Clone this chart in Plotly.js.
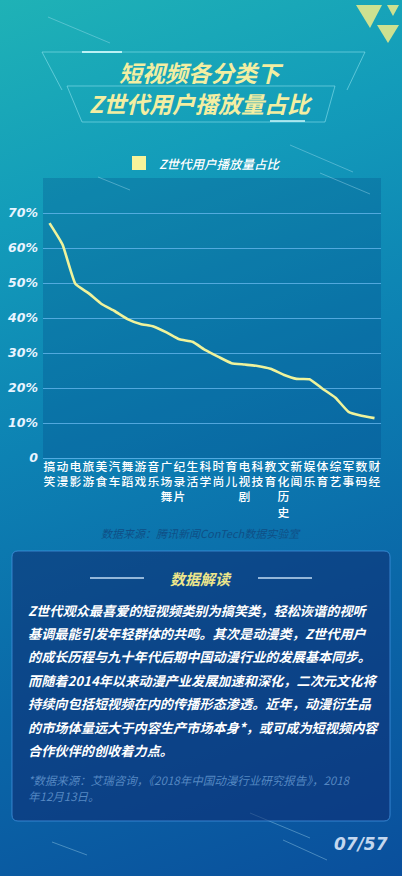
<!DOCTYPE html>
<html>
<head>
<meta charset="utf-8">
<script src="https://cdn.plot.ly/plotly-3.0.1.min.js"></script>
<style>
html,body{margin:0;padding:0;width:402px;height:876px;overflow:hidden;}
body{background:linear-gradient(160deg,#1fb2b6 0%,#139cba 22%,#0d82b3 45%,#0a68a8 70%,#0a4f9c 100%);}
#chart{width:402px;height:876px;}
</style>
</head>
<body>
<div id="chart"></div>
<script>
// ---- data ----
const categories = ['搞笑','动漫','电影','旅游','美食','汽车','舞蹈','游戏','音乐','广场舞','纪录片','生活','科学','时尚','育儿','电视剧','科技','教育','文化历史','新闻','娱乐','体育','综艺','军事','数码','财经'];
const shares = [67.1, 61.0, 49.7, 47.1, 44.0, 42.0, 39.7, 38.3, 37.6, 35.9, 33.9, 33.2, 30.8, 28.9, 27.1, 26.7, 26.3, 25.5, 23.8, 22.6, 22.5, 19.8, 17.2, 13.2, 12.1, 11.4];
const yTickVals = [0, 10, 20, 30, 40, 50, 60, 70];
const yTickText = ['0', '10%', '20%', '30%', '40%', '50%', '60%', '70%'];
const seriesName = 'Z世代用户播放量占比';
const titleLines = ['短视频各分类下', 'Z世代用户播放量占比'];
const sourceText = '数据来源：腾讯新闻ConTech数据实验室';
const boxHeader = '数据解读';
const boxLines = [
  'Z世代观众最喜爱的短视频类别为搞笑类，轻松诙谐的视听',
  '基调最能引发年轻群体的共鸣。其次是动漫类，Z世代用户',
  '的成长历程与九十年代后期中国动漫行业的发展基本同步。',
  '而随着2014年以来动漫产业发展加速和深化，二次元文化将',
  '持续向包括短视频在内的传播形态渗透。近年，动漫衍生品',
  '的市场体量远大于内容生产市场本身*，或可成为短视频内容',
  '合作伙伴的创收着力点。'
];
const noteLines = ['*数据来源：艾瑞咨询，《2018年中国动漫行业研究报告》，2018', '年12月13日。'];
const pageText = '07/57';

// ---- layout helpers (pixel -> paper) ----
const L = 43, R = 381, T = 178, B = 458;
const X = px => (px - L) / (R - L);
const Y = py => (B - py) / (B - T);
const P = (x, y) => X(x).toFixed(4) + ',' + Y(y).toFixed(4);

const cjk = '"Noto Sans CJK SC", "Noto Sans", sans-serif';

const trace = {
  type: 'scatter',
  mode: 'lines',
  x: categories,
  y: shares,
  name: seriesName,
  showlegend: false,
  line: {color: '#eff39c', width: 2.6, shape: 'spline', smoothing: 0.4},
  hoverinfo: 'x+y'
};

const shapes = [];
const annotations = [];

// title frames
const frameStyle = {color: 'rgba(150,230,240,0.55)', width: 1};
shapes.push({type: 'path', xref: 'paper', yref: 'paper', layer: 'below',
  path: 'M' + P(42, 52) + ' L' + P(365, 52) + ' L' + P(347, 90) + ' M' + P(42, 52) + ' L' + P(62, 90),
  line: frameStyle});
shapes.push({type: 'path', xref: 'paper', yref: 'paper', layer: 'below',
  path: 'M' + P(67, 86) + ' L' + P(335, 86) + ' L' + P(325, 122) + ' L' + P(82, 122) + ' Z',
  line: frameStyle});
// glow streaks
shapes.push({type: 'line', xref: 'paper', yref: 'paper', x0: X(82), y0: Y(52), x1: X(122), y1: Y(52), line: {color: 'rgba(220,255,255,0.8)', width: 2}});
shapes.push({type: 'line', xref: 'paper', yref: 'paper', x0: X(270), y0: Y(121), x1: X(305), y1: Y(121), line: {color: 'rgba(220,255,255,0.7)', width: 2}});
// meteor lines
const meteors = [[48,17,110,43],[290,145,353,172],[320,173,370,194],[98,177,130,190],[250,813,310,838],[52,842,87,855],[283,840,327,860]];
meteors.forEach(m => shapes.push({type: 'line', xref: 'paper', yref: 'paper', layer: 'below',
  x0: X(m[0]), y0: Y(m[1]), x1: X(m[2]), y1: Y(m[3]), line: {color: 'rgba(190,235,250,0.35)', width: 1}}));
// triangles top right
const tri = [[356,5,382,5,370,28],[387,5,399,5,393,16],[377,25,399,25,388,43]];
tri.forEach(t => shapes.push({type: 'path', xref: 'paper', yref: 'paper',
  path: 'M' + P(t[0], t[1]) + ' L' + P(t[2], t[3]) + ' L' + P(t[4], t[5]) + ' Z',
  fillcolor: 'rgba(225,232,140,0.9)', line: {width: 0}}));
// legend square
shapes.push({type: 'rect', xref: 'paper', yref: 'paper', x0: X(132), x1: X(146), y0: Y(156), y1: Y(170),
  fillcolor: '#f6f39a', line: {width: 0}});
// text box with rounded corners
const bx0 = 12, bx1 = 390, by0 = 551, by1 = 821, r = 6;
shapes.push({type: 'path', xref: 'paper', yref: 'paper', layer: 'below',
  path: 'M' + P(bx0 + r, by0) + ' L' + P(bx1 - r, by0) + ' Q' + P(bx1, by0) + ' ' + P(bx1, by0 + r) +
        ' L' + P(bx1, by1 - r) + ' Q' + P(bx1, by1) + ' ' + P(bx1 - r, by1) +
        ' L' + P(bx0 + r, by1) + ' Q' + P(bx0, by1) + ' ' + P(bx0, by1 - r) +
        ' L' + P(bx0, by0 + r) + ' Q' + P(bx0, by0) + ' ' + P(bx0 + r, by0) + ' Z',
  fillcolor: 'rgba(14,42,112,0.55)', line: {color: 'rgba(70,150,225,0.75)', width: 1}});
// header lines
shapes.push({type: 'line', xref: 'paper', yref: 'paper', x0: X(90), x1: X(144), y0: Y(578), y1: Y(578), line: {color: 'rgba(215,235,255,0.9)', width: 1.5}});
shapes.push({type: 'line', xref: 'paper', yref: 'paper', x0: X(258), x1: X(312), y0: Y(578), y1: Y(578), line: {color: 'rgba(215,235,255,0.9)', width: 1.5}});

// title text
annotations.push({xref: 'paper', yref: 'paper', x: X(201), y: Y(72), text: titleLines[0], showarrow: false,
  xanchor: 'center', yanchor: 'middle', font: {family: cjk, size: 23, color: '#f3eea2', weight: 700, style: 'italic'}});
annotations.push({xref: 'paper', yref: 'paper', x: X(201), y: Y(103), text: titleLines[1], showarrow: false,
  xanchor: 'center', yanchor: 'middle', font: {family: cjk, size: 23, color: '#f3eea2', weight: 700, style: 'italic'}});
// legend text
annotations.push({xref: 'paper', yref: 'paper', x: X(157), y: Y(163), text: seriesName, showarrow: false,
  xanchor: 'left', yanchor: 'middle', font: {family: cjk, size: 12.5, color: '#ffffff', style: 'italic', weight: 500}});
// source
annotations.push({xref: 'paper', yref: 'paper', x: X(201), y: Y(533), text: sourceText, showarrow: false,
  xanchor: 'center', yanchor: 'middle', font: {family: cjk, size: 11, color: '#0f4f86', style: 'italic'}});
// box header
annotations.push({xref: 'paper', yref: 'paper', x: X(201), y: Y(578), text: boxHeader, showarrow: false,
  xanchor: 'center', yanchor: 'middle', font: {family: cjk, size: 15, color: '#ede68a', weight: 700, style: 'italic'}});
// box body lines
boxLines.forEach((t, i) => annotations.push({xref: 'paper', yref: 'paper', x: X(26), y: Y(610 + i * 23.4), text: t,
  showarrow: false, xanchor: 'left', yanchor: 'middle',
  font: {family: cjk, size: 13.2, color: '#ffffff', weight: 700, style: 'italic'}}));
// note lines
noteLines.forEach((t, i) => annotations.push({xref: 'paper', yref: 'paper', x: X(26), y: Y(780 + i * 16), text: t,
  showarrow: false, xanchor: 'left', yanchor: 'middle',
  font: {family: cjk, size: 11.5, color: 'rgba(110,160,215,0.75)', style: 'italic'}}));
// page number
annotations.push({xref: 'paper', yref: 'paper', x: X(390), y: Y(844), text: pageText, showarrow: false,
  xanchor: 'right', yanchor: 'middle', font: {family: '"DejaVu Sans", sans-serif', size: 17, color: 'rgba(230,240,255,0.85)', style: 'italic', weight: 700}});

const layout = {
  width: 402, height: 876,
  margin: {l: L, r: 402 - R, t: T, b: 876 - B, pad: 0},
  paper_bgcolor: 'rgba(0,0,0,0)',
  plot_bgcolor: 'rgba(0,55,125,0.22)',
  showlegend: false,
  xaxis: {
    type: 'category',
    range: [-0.5, categories.length - 0.5],
    tickvals: categories,
    ticktext: categories.map(c => c.split('').join('<br>')),
    tickangle: 0,
    showgrid: false, zeroline: false, showline: false, ticks: '',
    tickfont: {family: cjk, size: 11.8, color: '#ffffff', weight: 500},
    fixedrange: true
  },
  yaxis: {
    range: [0, 80],
    tickvals: yTickVals,
    ticktext: yTickText,
    showgrid: true, gridcolor: 'rgba(105,185,240,0.75)', gridwidth: 1,
    zeroline: true, zerolinecolor: 'rgba(105,185,240,0.75)', zerolinewidth: 1,
    showline: false, ticks: '',
    ticklabelstandoff: 4,
    tickfont: {family: '"DejaVu Sans", sans-serif', size: 12.5, color: '#e9f4ff', style: 'italic', weight: 600},
    fixedrange: true
  },
  shapes: shapes,
  annotations: annotations
};

Plotly.newPlot('chart', [trace], layout, {displayModeBar: false, staticPlot: true});
</script>
</body>
</html>
